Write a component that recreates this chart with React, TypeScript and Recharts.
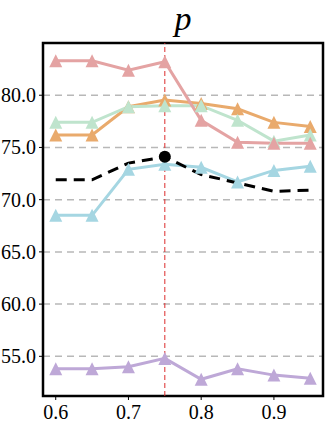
import React from 'react'
import {
  LineChart, Line, XAxis, YAxis, CartesianGrid, ReferenceLine, ReferenceArea,
} from 'recharts'

const xs = [0.6, 0.65, 0.7, 0.75, 0.8, 0.85, 0.9, 0.95]

const pinkVals = [83.3, 83.3, 82.4, 83.2, 77.6, 75.5, 75.4, 75.4]
const orangeVals = [76.2, 76.2, 78.9, 79.55, 79.2, 78.7, 77.4, 77.0]
const greenVals = [77.4, 77.4, 78.9, 79.0, 79.0, 77.6, 75.6, 76.2]
const blueVals = [68.5, 68.5, 72.9, 73.4, 73.1, 71.7, 72.8, 73.2]
const avgVals = [71.9, 71.9, 73.5, 74.1, 72.4, 71.6, 70.8, 70.9]
const purpleVals = [53.8, 53.8, 54.0, 54.8, 52.8, 53.8, 53.2, 52.9]

const yTicks = [55, 60, 65, 70, 75, 80]
const xTicks = [0.6, 0.7, 0.8, 0.9]
const X_DOMAIN: [number, number] = [0.5825, 0.9675]
const Y_DOMAIN: [number, number] = [51.2, 85.0]

const data = xs.map((x, i) => ({
  x,
  pink: pinkVals[i],
  orange: orangeVals[i],
  green: greenVals[i],
  blue: blueVals[i],
  avg: avgVals[i],
  purple: purpleVals[i],
}))

const SERIF = "'Liberation Serif', 'Times New Roman', 'DejaVu Serif', serif"

const triangle = (color: string) => (props: any) => {
  const { cx, cy, index } = props
  if (cx == null || cy == null) return <g key={index} />
  const s = 6.5
  return (
    <polygon
      key={index}
      points={`${cx},${cy - s} ${cx - s},${cy + s} ${cx + s},${cy + s}`}
      fill={color}
      stroke="none"
    />
  )
}

const peakDot = (props: any) => {
  const { cx, cy, index, payload } = props
  if (payload.x !== 0.75) return <g key={index} />
  return <circle key={index} cx={cx} cy={cy} r={6} fill="#000" />
}

const XTick = (props: any) => {
  const { x, y, payload } = props
  return (
    <text x={x} y={y + 17} textAnchor="middle" style={{ fontFamily: SERIF, fontSize: 20 }} fill="#000">
      {Number(payload.value).toFixed(1)}
    </text>
  )
}

const YTick = (props: any) => {
  const { x, y, payload } = props
  return (
    <text x={x - 1} y={y + 7} textAnchor="end" style={{ fontFamily: SERIF, fontSize: 20 }} fill="#000">
      {Number(payload.value).toFixed(1)}
    </text>
  )
}

export default function App() {
  const series = [
    { key: 'orange', color: '#e9aa6c' },
    { key: 'green', color: '#bfe4cd' },
    { key: 'pink', color: '#e4a3a3' },
    { key: 'blue', color: '#a5d6e2' },
    { key: 'purple', color: '#bea8d7' },
  ]
  return (
    <div style={{ position: 'fixed', left: 0, top: 0, width: 331, height: 428, background: '#fff', fontFamily: SERIF }}>
      <div
        style={{
          position: 'absolute', left: 0, width: 366, top: 0, textAlign: 'center',
          fontFamily: SERIF, fontStyle: 'italic', fontSize: 34, lineHeight: '38px',
        }}
      >
        p
      </div>
      <LineChart
        width={331}
        height={428}
        data={data}
        margin={{ top: 43, right: 8, bottom: 0, left: 0 }}
      >
        <CartesianGrid
          vertical={false}
          horizontalValues={yTicks}
          stroke="#b8b8b8"
          strokeWidth={1.5}
          strokeDasharray="7 5"
        />
        <XAxis
          dataKey="x"
          type="number"
          domain={X_DOMAIN}
          ticks={xTicks}
          allowDataOverflow
          height={32}
          tickSize={4}
          tickLine={{ stroke: '#000' }}
          axisLine={false}
          tick={<XTick />}
        />
        <YAxis
          type="number"
          domain={Y_DOMAIN}
          ticks={yTicks}
          allowDataOverflow
          width={43}
          tickSize={4}
          tickLine={{ stroke: '#000' }}
          axisLine={false}
          tick={<YTick />}
        />
        <ReferenceLine x={0.75} stroke="#dd2c2c" strokeWidth={1} strokeDasharray="5 3" />
        {series.map(s => (
          <Line
            key={s.key}
            dataKey={s.key}
            stroke={s.color}
            strokeWidth={3}
            dot={triangle(s.color)}
            activeDot={false}
            isAnimationActive={false}
          />
        ))}
        <Line
          dataKey="avg"
          stroke="#000"
          strokeWidth={3}
          strokeDasharray="11 7"
          dot={peakDot}
          activeDot={false}
          isAnimationActive={false}
        />
        <ReferenceArea
          x1={X_DOMAIN[0]}
          x2={X_DOMAIN[1]}
          y1={Y_DOMAIN[0]}
          y2={Y_DOMAIN[1]}
          fill="none"
          fillOpacity={0}
          stroke="#000"
          strokeWidth={2.5}
        />
      </LineChart>
    </div>
  )
}
